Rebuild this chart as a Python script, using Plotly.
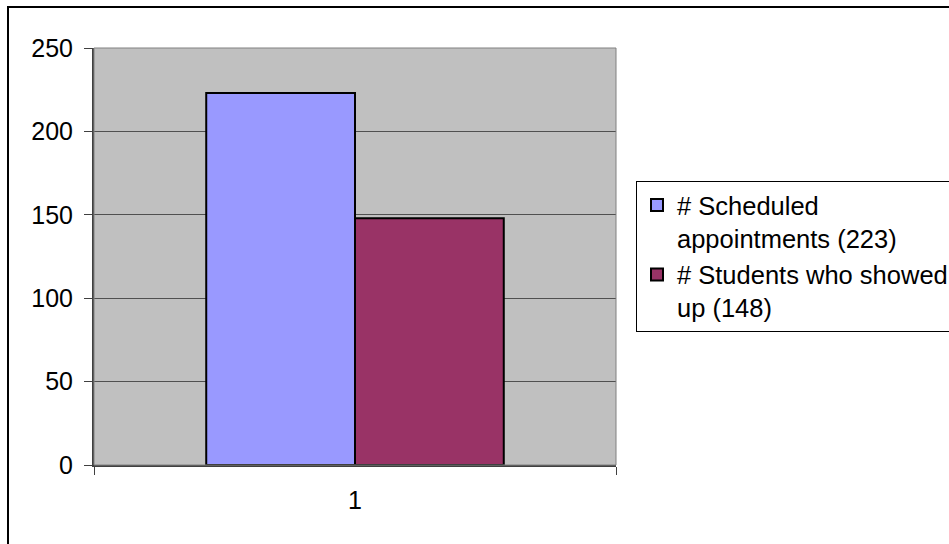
import plotly.graph_objects as go

# Chart data
categories = ["1"]
series_names = ["# Scheduled<br>appointments (223)", "# Students who showed<br>up (148)"]
series_values = [[223], [148]]
series_colors = ["#9999FF", "#993366"]
y_ticks = [0, 50, 100, 150, 200, 250]

W, H = 949, 544
# plot area in pixels
L, R, T, B = 94, 616, 48, 465


def px(x):
    return (x - L) / (R - L)


def py(y):
    return (B - y) / (B - T)


fig = go.Figure()
for name, vals, col in zip(series_names, series_values, series_colors):
    fig.add_trace(go.Bar(
        x=categories, y=vals, name=name,
        marker=dict(color=col, line=dict(color="#000000", width=2)),
    ))

font = dict(family="Liberation Sans, Arial, sans-serif", size=25, color="#000000")
legend_font = dict(family="Liberation Sans, Arial, sans-serif", size=25.5, color="#000000")

fig.update_layout(
    width=W, height=H,
    margin=dict(l=L, r=W - R, t=T, b=H - B, autoexpand=False),
    paper_bgcolor="#FFFFFF",
    plot_bgcolor="#C0C0C0",
    barmode="group",
    bargap=0.43,
    bargroupgap=0,
    font=font,
    showlegend=True,
    legend=dict(
        x=px(636), y=py(181), xanchor="left", yanchor="top",
        bgcolor="#FFFFFF", bordercolor="#000000", borderwidth=1,
        font=legend_font, valign="top", traceorder="normal",
        itemwidth=30,
    ),
    xaxis=dict(
        type="category", tickson="boundaries", ticks="outside", ticklen=8,
        tickcolor="#404040", showline=True, linecolor="#404040", linewidth=2,
        showgrid=False, tickfont=font, range=[-0.5, 0.5],
        ticklabelstandoff=12,
    ),
    yaxis=dict(
        range=[0, 250], tickvals=y_ticks, ticks="outside", ticklen=8,
        tickcolor="#404040", showline=True, linecolor="#404040", linewidth=2,
        showgrid=True, gridcolor="#505050", gridwidth=1, tickfont=font,
        zeroline=False, ticklabelstandoff=6,
    ),
    shapes=[
        # plot area frame (top and right edges)
        dict(type="rect", xref="paper", yref="paper", x0=0, x1=1, y0=0, y1=1,
             line=dict(color="#808080", width=1), layer="above"),
        # outer chart border
        dict(type="rect", xref="paper", yref="paper",
             x0=px(8), x1=px(960), y0=py(560), y1=py(7),
             line=dict(color="#000000", width=2), layer="above"),
    ],
)

fig.write_html("out.html")
